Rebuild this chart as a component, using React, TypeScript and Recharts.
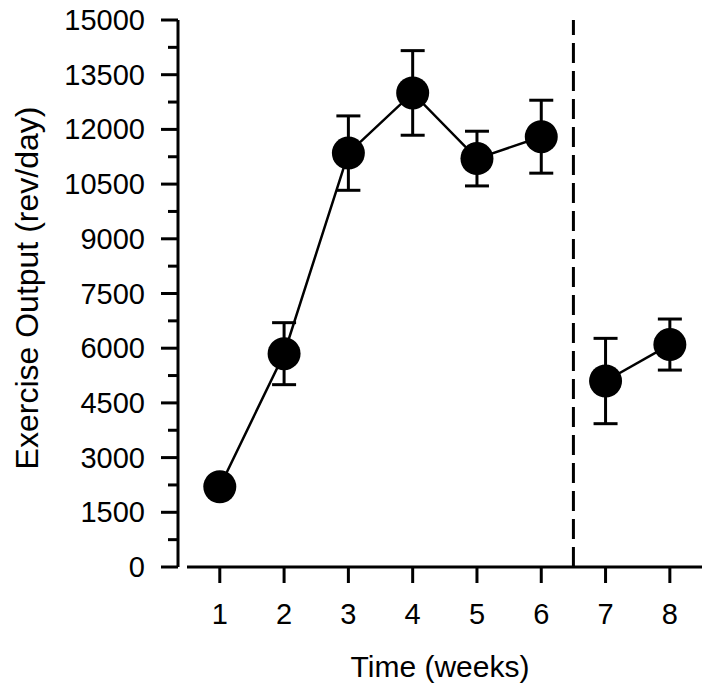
import React from 'react';
import { LineChart, Line, XAxis, YAxis, ErrorBar, ReferenceLine, Label } from 'recharts';

// weeks 1-6, then weeks 7-8 after the break
const weeksBefore = [1, 2, 3, 4, 5, 6];
const outputBefore = [2200, 5850, 11350, 13000, 11200, 11800];
const errBefore = [150, 850, 1020, 1160, 750, 1000];

const weeksAfter = [7, 8];
const outputAfter = [5100, 6100];
const errAfter = [1170, 700];

const xTicks = [1, 2, 3, 4, 5, 6, 7, 8];
const yTicks = [
  0, 750, 1500, 2250, 3000, 3750, 4500, 5250, 6000, 6750, 7500, 8250, 9000, 9750, 10500, 11250, 12000,
  12750, 13500, 14250, 15000,
];

const before = weeksBefore.map((w, i) => ({ week: w, output: outputBefore[i], err: errBefore[i] }));
const after = weeksAfter.map((w, i) => ({ week: w, output: outputAfter[i], err: errAfter[i] }));

const FONT = '"Liberation Sans", Arial, sans-serif';

const YTick = (props: any) => {
  const { x, y, payload } = props;
  const major = payload.value % 1500 === 0;
  return (
    <g>
      <line x1={x - (major ? 17 : 10)} x2={x} y1={y} y2={y} stroke="#000" strokeWidth={3} />
      {major && (
        <text x={x - 33} y={y} textAnchor="end" dominantBaseline="central" fontSize={29} fontFamily={FONT} fill="#000">
          {payload.value}
        </text>
      )}
    </g>
  );
};

const YTitle = () => (
  <text
    x={27}
    y={288}
    transform="rotate(-90, 27, 288)"
    textAnchor="middle"
    dominantBaseline="central"
    fontSize={32}
    fontFamily={FONT}
    fill="#000"
  >
    Exercise Output (rev/day)
  </text>
);

export default function App() {
  return (
    <div style={{ position: 'absolute', left: 0, top: 0, background: '#fff' }}>
      <LineChart width={712} height={695} margin={{ top: 20, right: 10, bottom: 0, left: 0 }}>
        <XAxis
          type="number"
          dataKey="week"
          domain={[0.35, 8.5]}
          allowDataOverflow
          ticks={xTicks}
          interval={0}
          axisLine={false}
          tickLine={{ stroke: '#000', strokeWidth: 3 }}
          tickSize={16}
          tickMargin={20}
          height={128}
          tick={{ fill: '#000', fontSize: 29, fontFamily: FONT }}
        >
          <Label value="Time (weeks)" position="insideBottom" offset={18} fill="#000" fontSize={30} fontFamily={FONT} />
        </XAxis>
        <YAxis
          type="number"
          domain={[0, 15000]}
          ticks={yTicks}
          interval={0}
          width={178}
          axisLine={{ stroke: '#000', strokeWidth: 3 }}
          tickLine={false}
          tickSize={0}
          tickMargin={0}
          tick={<YTick />}
        >
          <Label content={<YTitle />} />
        </YAxis>
        <ReferenceLine
          segment={[
            { x: 0.49, y: 0 },
            { x: 8.5, y: 0 },
          ]}
          stroke="#000"
          strokeWidth={3}
        />
        <ReferenceLine x={6.5} stroke="#000" strokeWidth={3} strokeDasharray="20 8" />
        <Line
          data={before}
          dataKey="output"
          stroke="#000"
          strokeWidth={2.5}
          dot={{ r: 16.5, fill: '#000', stroke: '#000', strokeWidth: 0 }}
          isAnimationActive={false}
        >
          <ErrorBar dataKey="err" width={12} stroke="#000" strokeWidth={3} direction="y" />
        </Line>
        <Line
          data={after}
          dataKey="output"
          stroke="#000"
          strokeWidth={2.5}
          dot={{ r: 16.5, fill: '#000', stroke: '#000', strokeWidth: 0 }}
          isAnimationActive={false}
        >
          <ErrorBar dataKey="err" width={12} stroke="#000" strokeWidth={3} direction="y" />
        </Line>
      </LineChart>
    </div>
  );
}
